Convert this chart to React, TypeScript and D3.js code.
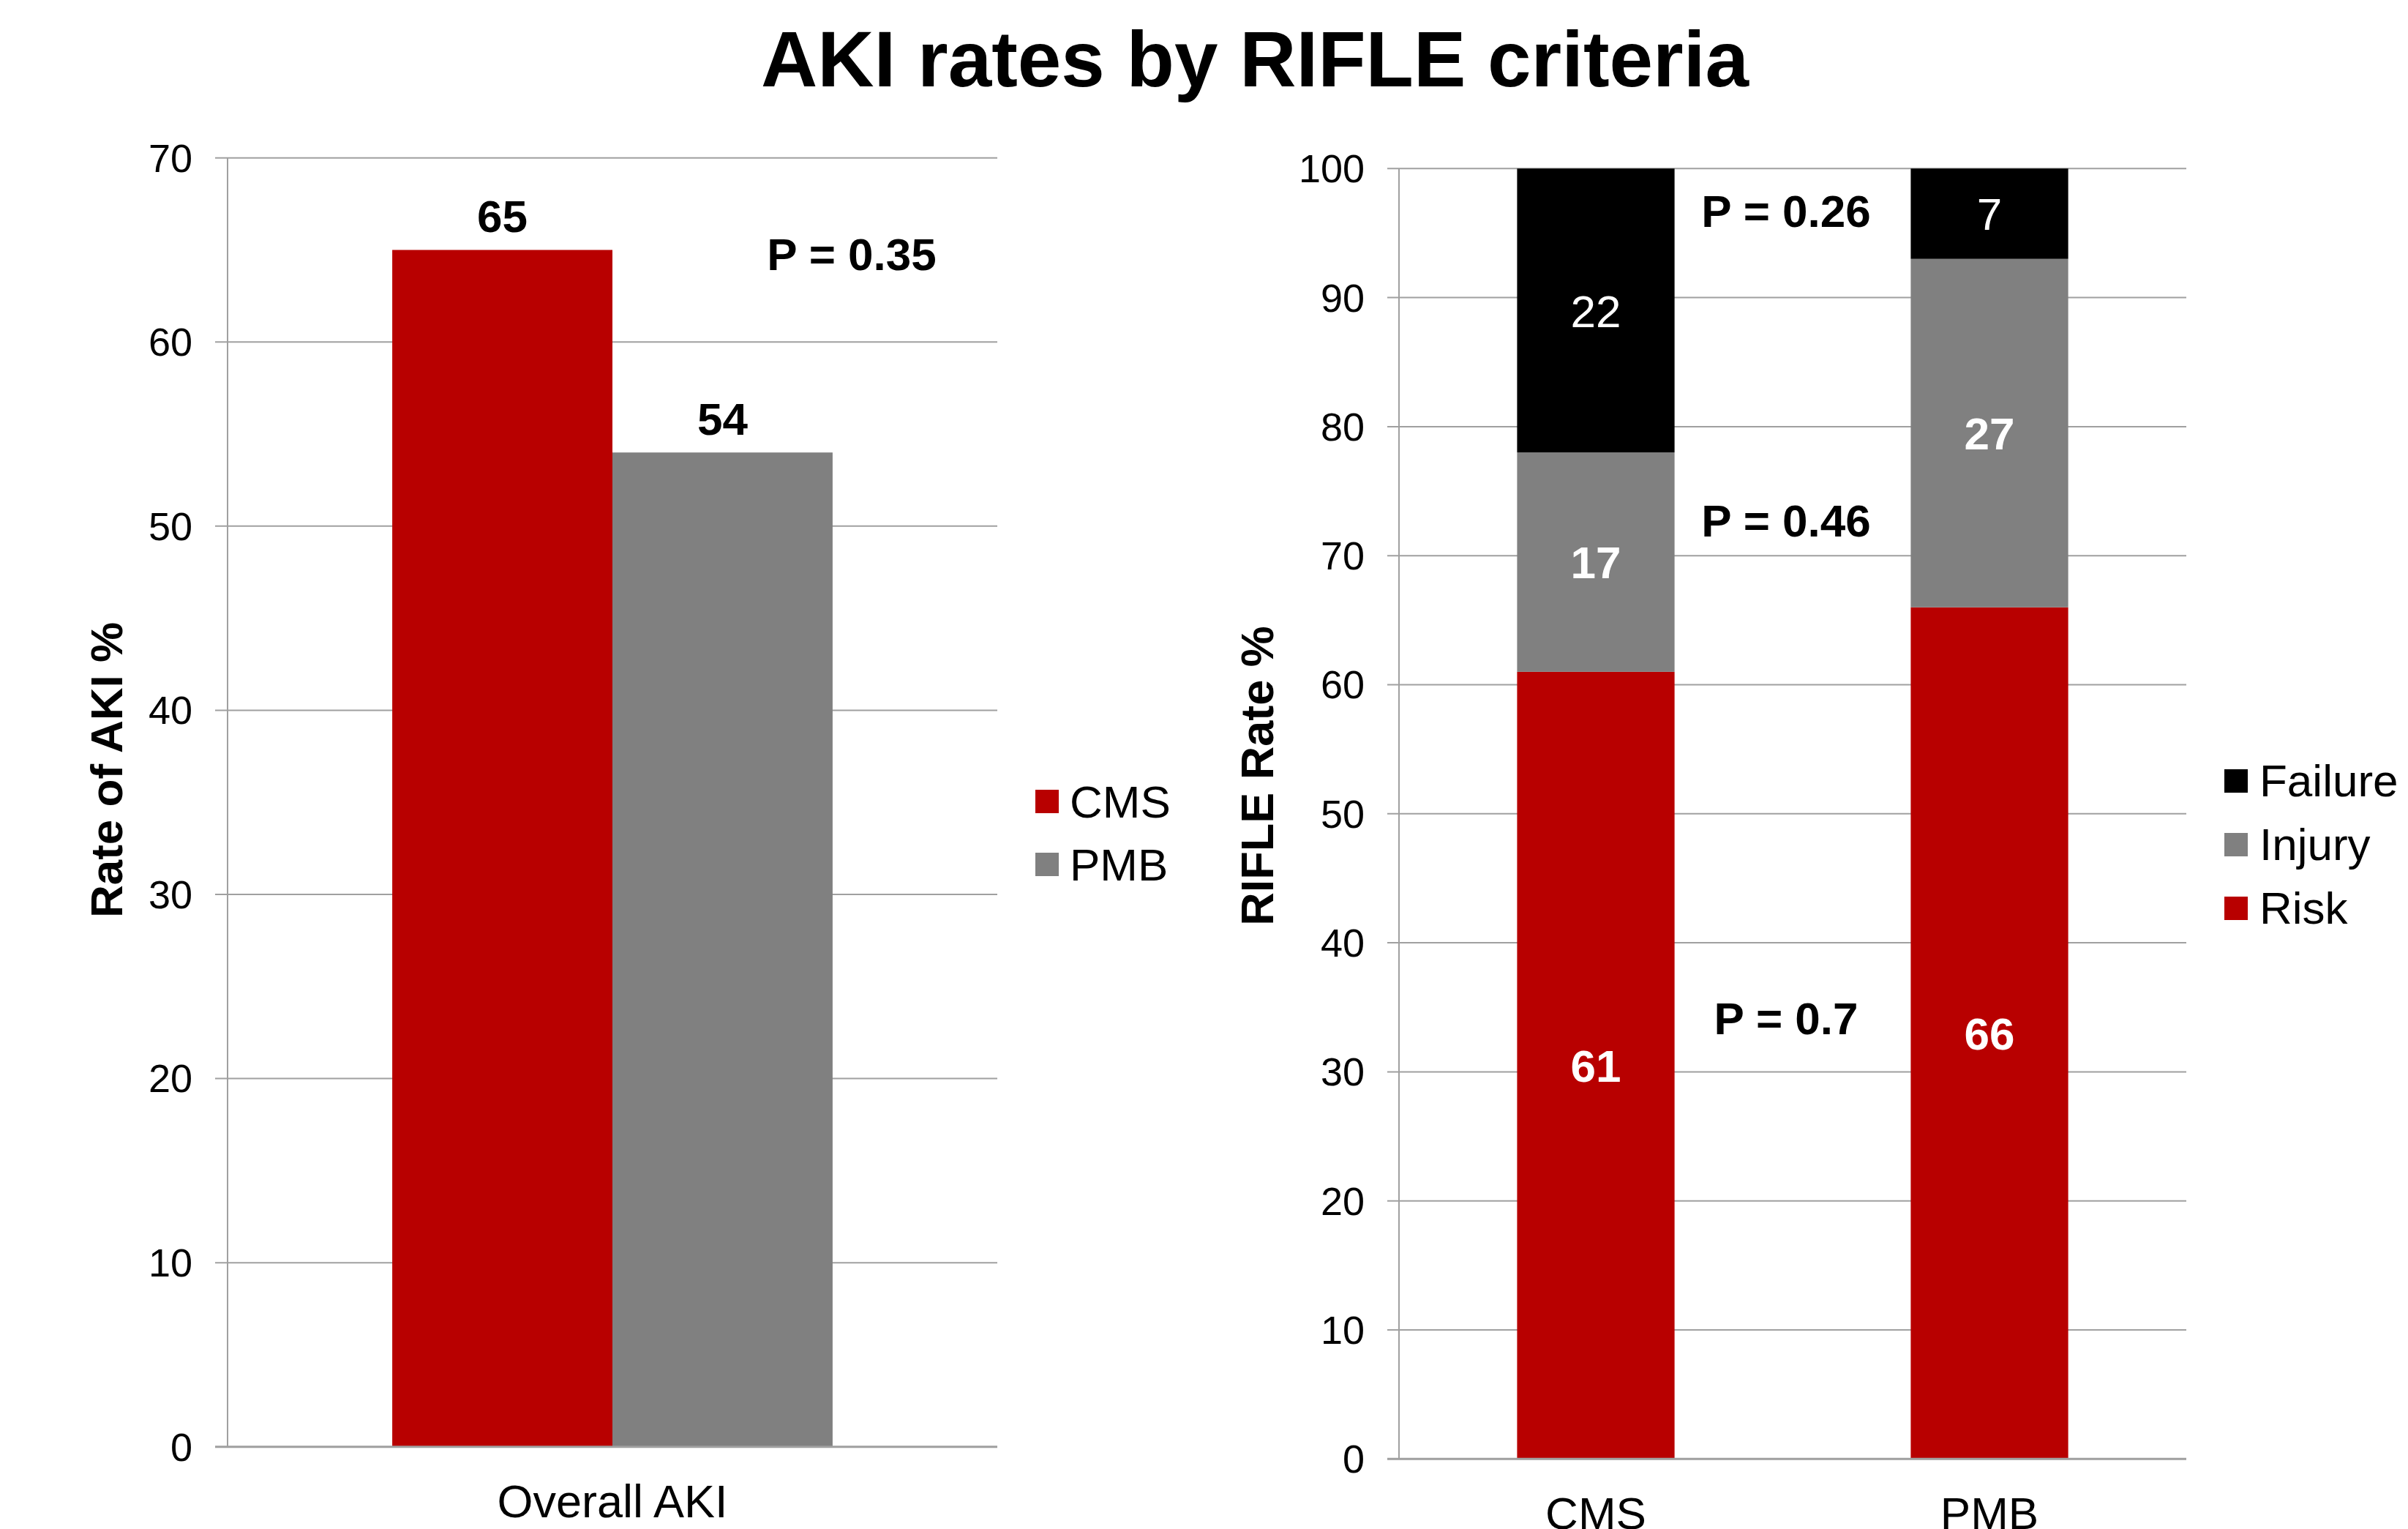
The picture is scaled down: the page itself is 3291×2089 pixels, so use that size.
import React from "react";
import * as d3 from "d3";

const leftCategories = ["Overall AKI"];
const leftSeries = ["CMS", "PMB"];
const leftValues = [65, 54];
const leftTicks = [0, 10, 20, 30, 40, 50, 60, 70];
const leftPText = "P = 0.35";
const leftPValue = 63.9;

const rightCategories = ["CMS", "PMB"];
const rifleKeys = ["Risk", "Injury", "Failure"];
const riskValues = [61, 66];
const injuryValues = [17, 27];
const failureValues = [22, 7];
const rightTicks = [0, 10, 20, 30, 40, 50, 60, 70, 80, 90, 100];
const rightPTexts = ["P = 0.26", "P = 0.46", "P = 0.7"];
const rightPValues = [95.5, 71.5, 32.9];

const legendRight = ["Failure", "Injury", "Risk"];

const RED = "#B80000";
const GRAY = "#808080";
const BLACK = "#000000";
const GRID = "#A0A0A0";
const FONT = "'Liberation Sans', Arial, sans-serif";

export default function App() {
  // Left chart scales
  const ly = d3.scaleLinear().domain([0, 70]).range([1976.7, 215.7]);
  const lx0 = d3.scaleBand().domain(leftCategories).range([311, 1363]).paddingInner(0).paddingOuter(0.374);
  const lx1 = d3.scaleBand().domain(leftSeries).range([0, lx0.bandwidth()]).padding(0);
  const leftColor = d3.scaleOrdinal<string, string>().domain(leftSeries).range([RED, GRAY]);

  // Right chart scales
  const ry = d3.scaleLinear().domain([0, 100]).range([1993.3, 230.3]);
  const rx = d3.scaleBand().domain(rightCategories).range([1912, 2988]).paddingInner(0.6).paddingOuter(0.3);
  const rightColor = d3.scaleOrdinal<string, string>().domain(rifleKeys).range([RED, GRAY, BLACK]);

  const rows = rightCategories.map((c, i) => ({
    cat: c,
    Risk: riskValues[i],
    Injury: injuryValues[i],
    Failure: failureValues[i],
  }));
  const stacked = d3.stack<any>().keys(rifleKeys)(rows);

  const leftPlotX0 = 311, leftPlotX1 = 1363;
  const rightPlotX0 = 1912, rightPlotX1 = 2988;

  return (
    <svg width={3291} height={2089} style={{ position: "absolute", left: 0, top: 0, background: "#fff" }} fontFamily={FONT}>
      <rect x={0} y={0} width={3291} height={2089} fill="#fff" />
      <text x={1715} y={118} textAnchor="middle" fontSize={107} fontWeight="bold" fill="#000">
        AKI rates by RIFLE criteria
      </text>

      {/* LEFT CHART */}
      <g>
        {leftTicks.map((t) => (
          <g key={"lt" + t}>
            <line x1={294} x2={leftPlotX1} y1={ly(t)} y2={ly(t)} stroke={GRID} strokeWidth={2} />
            <text x={263} y={ly(t)} dy="0.35em" textAnchor="end" fontSize={54} fill="#000">{t}</text>
          </g>
        ))}
        <line x1={leftPlotX0} x2={leftPlotX0} y1={ly(70)} y2={ly(0)} stroke={GRID} strokeWidth={2} />
        {leftCategories.map((c) => (
          <g key={c} transform={`translate(${lx0(c)},0)`}>
            {leftSeries.map((s, i) => (
              <g key={s}>
                <rect x={lx1(s)} y={ly(leftValues[i])} width={lx1.bandwidth()} height={ly(0) - ly(leftValues[i])} fill={leftColor(s)} />
                <text x={(lx1(s) as number) + lx1.bandwidth() / 2} y={ly(leftValues[i]) - 24} textAnchor="middle" fontSize={62} fontWeight="bold" fill="#000">
                  {leftValues[i]}
                </text>
              </g>
            ))}
          </g>
        ))}
        <line x1={294} x2={leftPlotX1} y1={ly(0)} y2={ly(0)} stroke={GRID} strokeWidth={3} />
        <text x={1164} y={ly(leftPValue)} textAnchor="middle" fontSize={62} fontWeight="bold" fill="#000">{leftPText}</text>
        {leftCategories.map((c) => (
          <text key={"xl" + c} x={(lx0(c) as number) + lx0.bandwidth() / 2} y={2073} textAnchor="middle" fontSize={63} fill="#000">{c}</text>
        ))}
        <text transform="translate(167,1052) rotate(-90)" textAnchor="middle" fontSize={62} fontWeight="bold" fill="#000">Rate of AKI %</text>
        {leftSeries.map((s, i) => (
          <g key={"ll" + s}>
            <rect x={1415} y={1079 + i * 86} width={32} height={32} fill={leftColor(s)} />
            <text x={1462} y={1117 + i * 86} fontSize={62} fill="#000">{s}</text>
          </g>
        ))}
      </g>

      {/* RIGHT CHART */}
      <g>
        {rightTicks.map((t) => (
          <g key={"rt" + t}>
            <line x1={1896} x2={rightPlotX1} y1={ry(t)} y2={ry(t)} stroke={GRID} strokeWidth={2} />
            <text x={1865} y={ry(t)} dy="0.35em" textAnchor="end" fontSize={54} fill="#000">{t}</text>
          </g>
        ))}
        <line x1={rightPlotX0} x2={rightPlotX0} y1={ry(100)} y2={ry(0)} stroke={GRID} strokeWidth={2} />
        {stacked.map((layer) => (
          <g key={layer.key}>
            {layer.map((d: any, i: number) => {
              const cat = rightCategories[i];
              const x = rx(cat) as number;
              const y0 = ry(d[0]);
              const y1 = ry(d[1]);
              const val = d[1] - d[0];
              return (
                <g key={cat}>
                  <rect x={x} y={y1} width={rx.bandwidth()} height={y0 - y1} fill={rightColor(layer.key)} />
                  <text x={x + rx.bandwidth() / 2} y={(y0 + y1) / 2} dy="0.36em" textAnchor="middle" fontSize={62}
                    fontWeight={layer.key === "Failure" ? "normal" : "bold"} fill="#fff">
                    {val}
                  </text>
                </g>
              );
            })}
          </g>
        ))}
        <line x1={1896} x2={rightPlotX1} y1={ry(0)} y2={ry(0)} stroke={GRID} strokeWidth={3} />
        {rightPTexts.map((p, i) => (
          <text key={p} x={2441} y={ry(rightPValues[i])} textAnchor="middle" fontSize={62} fontWeight="bold" fill="#000">{p}</text>
        ))}
        {rightCategories.map((c) => (
          <text key={"rx" + c} x={(rx(c) as number) + rx.bandwidth() / 2} y={2089} textAnchor="middle" fontSize={62} fill="#000">{c}</text>
        ))}
        <text transform="translate(1740,1060) rotate(-90)" textAnchor="middle" fontSize={63} fontWeight="bold" fill="#000">RIFLE Rate %</text>
        {legendRight.map((s, i) => (
          <g key={"rl" + s}>
            <rect x={3040} y={1051 + i * 87} width={32} height={32} fill={rightColor(s)} />
            <text x={3088} y={1088 + i * 87} fontSize={62} fill="#000">{s}</text>
          </g>
        ))}
      </g>
    </svg>
  );
}
